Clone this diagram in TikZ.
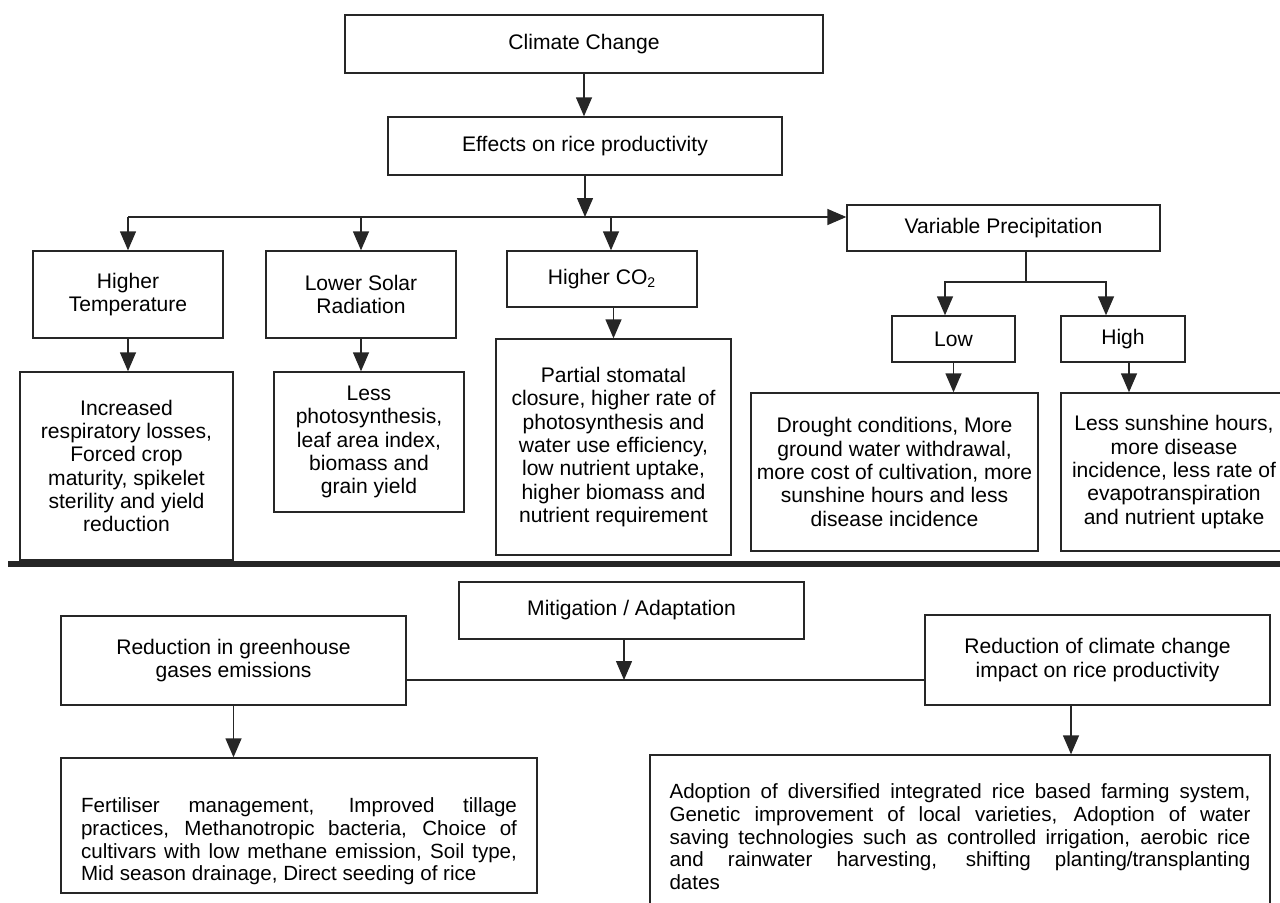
\documentclass[tikz,border=0pt]{standalone}
\usepackage{fontspec}
\setmainfont{Liberation Sans}
\usepackage{tikz}
\usetikzlibrary{arrows.meta}

\begin{document}
\begin{tikzpicture}[x=0.02cm, y=-0.02cm,
    box/.style={draw=black!85, line width=0.8pt, inner sep=0pt, align=center, font=\fontsize{12}{13.3}\selectfont},
    note/.style={box, font=\fontsize{11.7}{12.9}\selectfont},
    wire/.style={draw=black!85, line width=0.8pt},
    arr/.style={wire, -{Triangle[length=0.38cm, width=0.32cm]}}]
    % Page frame (pixel units)
    \useasboundingbox (0,0) rectangle (1280,902);
    \clip (0,0) rectangle (1280,902);

    % Climate change and its effects
    \node[box, minimum width=9.56cm, minimum height=1.16cm] (cc) at (584,44) {Climate Change};
    \node[box, minimum width=7.88cm, minimum height=1.16cm] (eff) at (585,146) {Effects on rice productivity};

    % Drivers
    \node[box, minimum width=3.8cm, minimum height=1.74cm] (ht) at (128,294.5) {Higher\\Temperature};
    \node[box, minimum width=3.8cm, minimum height=1.74cm] (ls) at (361,294.5) {Lower Solar\\Radiation};
    \node[box, minimum width=3.8cm, minimum height=1.12cm] (co2) at (602,279) {Higher CO\textsubscript{2}};
    \node[box, minimum width=6.26cm, minimum height=0.92cm] (vp) at (1003.5,228) {Variable Precipitation};
    \node[box, minimum width=2.46cm, minimum height=0.92cm] (low) at (953.5,339) {Low};
    \node[box, minimum width=2.48cm, minimum height=0.92cm] (high) at (1123,339) {High};

    % Consequences
    \node[box, minimum width=4.26cm, minimum height=3.76cm] (inc) at (126.5,466) {Increased\\respiratory losses,\\Forced crop\\maturity, spikelet\\sterility and yield\\reduction};
    \node[box, minimum width=3.8cm, minimum height=2.8cm] (less) at (369,442) {Less\\photosynthesis,\\leaf area index,\\biomass and\\grain yield};
    \node[box, minimum width=4.7cm, minimum height=4.32cm] (part) at (613.5,447) {Partial stomatal\\closure, higher rate of\\photosynthesis and\\water use efficiency,\\low nutrient uptake,\\higher biomass and\\nutrient requirement};
    \node[box, minimum width=5.74cm, minimum height=3.16cm] (dry) at (894.5,472) {Drought conditions, More\\ground water withdrawal,\\more cost of cultivation, more\\sunshine hours and less\\disease incidence};
    \node[box, minimum width=4.52cm, minimum height=3.16cm] (wet) at (1174,472) {Less sunshine hours,\\more disease\\incidence, less rate of\\evapotranspiration\\and nutrient uptake};

    % Top connectors
    \coordinate (bus) at (585,217);
    \coordinate (vpfork) at (1026,282);
    \coordinate (co2in) at ([xshift=0.18cm]co2.north);
    \coordinate (lowin) at ([xshift=-0.17cm]low.north);
    \coordinate (highin) at ([xshift=-0.34cm]high.north);
    \coordinate (highout) at ([xshift=0.12cm]high.south);
    \draw[arr] (cc.south) -- (cc.south |- eff.north);
    \draw[arr] (eff.south) -- (bus);
    \draw[arr] (ht.north |- bus) -- (vp.west |- bus);
    \draw[arr] (ht.north |- bus) -- (ht.north);
    \draw[arr] (ls.north |- bus) -- (ls.north);
    \draw[arr] (co2in |- bus) -- (co2in);
    \draw[arr] (vp.south -| vpfork) -- (vpfork) -| (lowin);
    \draw[arr] (vpfork) -| (highin);
    \draw[arr] (ht.south) -- (ht.south |- inc.north);
    \draw[arr] (ls.south) -- (ls.south |- less.north);
    \draw[arr] (co2.south -| part.north) -- (part.north);
    \draw[arr] (low.south) -- (low.south |- dry.north);
    \draw[arr] (highout) -- (highout |- wet.north);

    % Separator
    \draw[line width=0.12cm, black!85] (8,564) -- (1280,564);

    % Mitigation / adaptation
    \node[box, minimum width=6.9cm, minimum height=1.14cm] (mit) at (631.5,610.5) {Mitigation / Adaptation};
    \node[box, minimum width=6.9cm, minimum height=1.78cm] (ghg) at (233.5,660.5) {Reduction in greenhouse\\gases emissions};
    \node[box, minimum width=6.9cm, minimum height=1.8cm] (impact) at (1097.5,660) {Reduction of climate change\\impact on rice productivity};
    \node[note, minimum width=9.52cm] (fert) at (299,825.5) {\parbox[c][2.7cm][t]{8.72cm}{\vspace{0.8cm}Fertiliser management, Improved tillage\linebreak practices, Methanotropic bacteria, Choice of\linebreak cultivars with low methane emission, Soil type,\linebreak Mid season drainage, Direct seeding of rice}};
    \node[note, minimum width=12.4cm] (adopt) at (960,840) {\parbox[c][3.4cm][t]{11.62cm}{\vspace{0.58cm}Adoption of diversified integrated rice based farming system,\linebreak Genetic improvement of local varieties, Adoption of water\linebreak saving technologies such as controlled irrigation, aerobic rice\linebreak and rainwater harvesting, shifting planting/transplanting\linebreak dates}};

    % Bottom connectors
    \coordinate (mjoin) at (624,680);
    \coordinate (adin) at (1071,705);
    \draw[wire] (ghg.east |- mjoin) -- (impact.west |- mjoin);
    \draw[arr] (mit.south -| mjoin) -- (mjoin);
    \draw[arr] (ghg.south) -- (ghg.south |- fert.north);
    \draw[arr] (impact.south -| adin) -- (adin |- adopt.north);
\end{tikzpicture}
\end{document}
